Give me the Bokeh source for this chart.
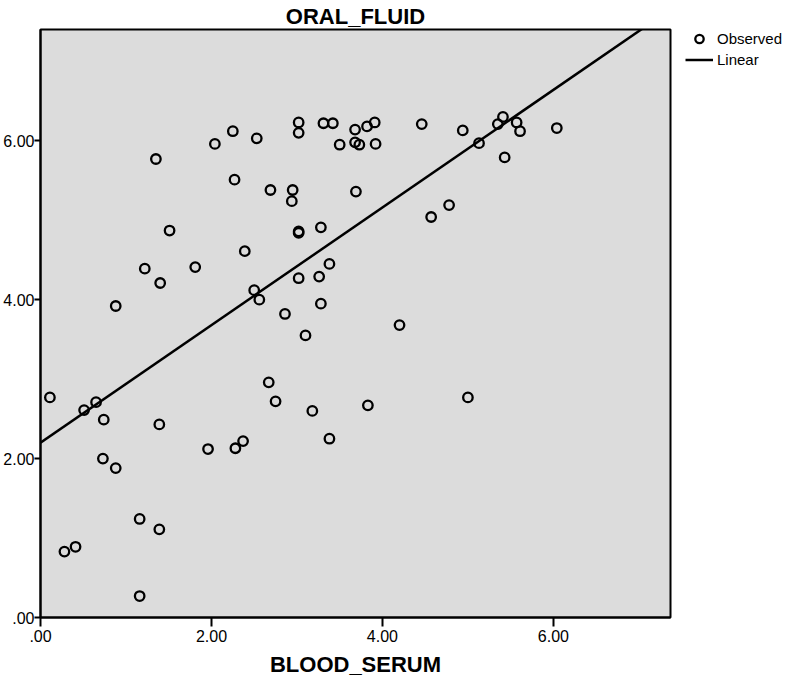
from bokeh.plotting import figure
from bokeh.models import Range1d, FixedTicker, Legend, LegendItem
from bokeh.embed import file_html
from bokeh.resources import INLINE

# ---- data ----
blood_serum = [3.02, 3.02, 3.31, 3.42, 3.68, 3.82, 3.91, 3.50, 3.68, 3.73,
               3.92, 4.46, 4.94, 5.13, 5.35, 5.41, 5.57, 5.61, 5.43, 6.04,
               1.35, 2.04, 2.25, 2.27, 2.53, 2.69, 2.95, 2.94, 3.69, 4.57,
               4.78, 1.51, 2.39, 1.22, 1.81, 1.40, 0.88, 2.50, 2.56, 0.11,
               0.51, 0.65, 0.74, 1.39, 2.37, 3.02, 3.02, 3.28, 3.38, 3.02,
               3.26, 3.28, 2.86, 3.10, 4.20, 2.67, 2.75, 3.18, 3.83, 5.00,
               3.38, 1.96, 2.28, 0.73, 0.88, 1.16, 1.39, 0.28, 0.41, 1.16]
oral_fluid = [6.23, 6.10, 6.22, 6.22, 6.14, 6.18, 6.23, 5.95, 5.98, 5.95,
              5.96, 6.21, 6.13, 5.97, 6.21, 6.30, 6.23, 6.12, 5.79, 6.16,
              5.77, 5.96, 6.12, 5.51, 6.03, 5.38, 5.38, 5.24, 5.36, 5.04,
              5.19, 4.87, 4.61, 4.39, 4.41, 4.21, 3.92, 4.12, 4.00, 2.77,
              2.61, 2.71, 2.49, 2.43, 2.22, 4.86, 4.84, 4.91, 4.45, 4.27,
              4.29, 3.95, 3.82, 3.55, 3.68, 2.96, 2.72, 2.60, 2.67, 2.77,
              2.25, 2.12, 2.13, 2.00, 1.88, 1.24, 1.11, 0.83, 0.89, 0.27]
fit_intercept = 2.20
fit_slope = 0.74
tick_values = [0, 2, 4, 6]
tick_labels = [".00", "2.00", "4.00", "6.00"]
x_max = 7.37
y_max = 7.40

FONT = "Liberation Sans"
FW, FH = 630, 588

p = figure(frame_width=FW, frame_height=FH,
           min_border_left=0, min_border_right=0,
           min_border_top=0, min_border_bottom=0,
           x_range=Range1d(0, x_max), y_range=Range1d(0, y_max),
           output_backend="svg", toolbar_location=None,
           background_fill_color="#dcdcdc", border_fill_color="white")
p.xgrid.visible = False
p.ygrid.visible = False
p.outline_line_color = "black"
p.outline_line_width = 2

for ax in (p.xaxis[0], p.yaxis[0]):
    ax.ticker = FixedTicker(ticks=tick_values)
    ax.major_label_overrides = {v: l for v, l in zip(tick_values, tick_labels)}
    ax.minor_tick_line_color = None
    ax.major_tick_in = 0
    ax.axis_line_color = "black"
    ax.axis_line_width = 2
    ax.major_tick_line_color = "black"
    ax.major_tick_line_width = 2
    ax.major_label_text_font = FONT
    ax.major_label_text_font_size = "16px"
    ax.major_label_text_color = "black"

p.xaxis[0].major_tick_out = 9
p.xaxis[0].major_label_standoff = 3
p.yaxis[0].major_tick_out = 6
p.yaxis[0].major_label_standoff = 0

p.xaxis[0].axis_label = "BLOOD_SERUM"
p.xaxis[0].axis_label_text_font = FONT
p.xaxis[0].axis_label_text_font_size = "22px"
p.xaxis[0].axis_label_text_font_style = "bold"
p.xaxis[0].axis_label_text_color = "black"
p.xaxis[0].axis_label_standoff = 7

p.title.text = "ORAL_FLUID"
p.title.align = "center"
p.title.text_font = FONT
p.title.text_font_size = "22px"
p.title.text_font_style = "bold"
p.title.text_color = "black"
p.title.standoff = 2

# regression line across the x range
lx = [0, x_max]
ly = [fit_intercept + fit_slope * v for v in lx]
r_line = p.line(lx, ly, line_color="black", line_width=2.5)

r_pts = p.scatter(blood_serum, oral_fluid, marker="circle", size=9.5,
                  fill_color=None, line_color="black", line_width=2.3)

legend = Legend(items=[LegendItem(label="Observed", renderers=[r_pts]),
                       LegendItem(label="Linear", renderers=[r_line])],
                location=(15, FH - 41),
                padding=0, margin=0, spacing=0,
                glyph_width=28, glyph_height=21, label_height=21,
                label_standoff=4, label_text_font=FONT,
                label_text_font_size="15px", label_text_color="black",
                background_fill_alpha=0, border_line_alpha=0)
p.add_layout(legend, "right")

open("out.html", "w").write(file_html(p, INLINE))
